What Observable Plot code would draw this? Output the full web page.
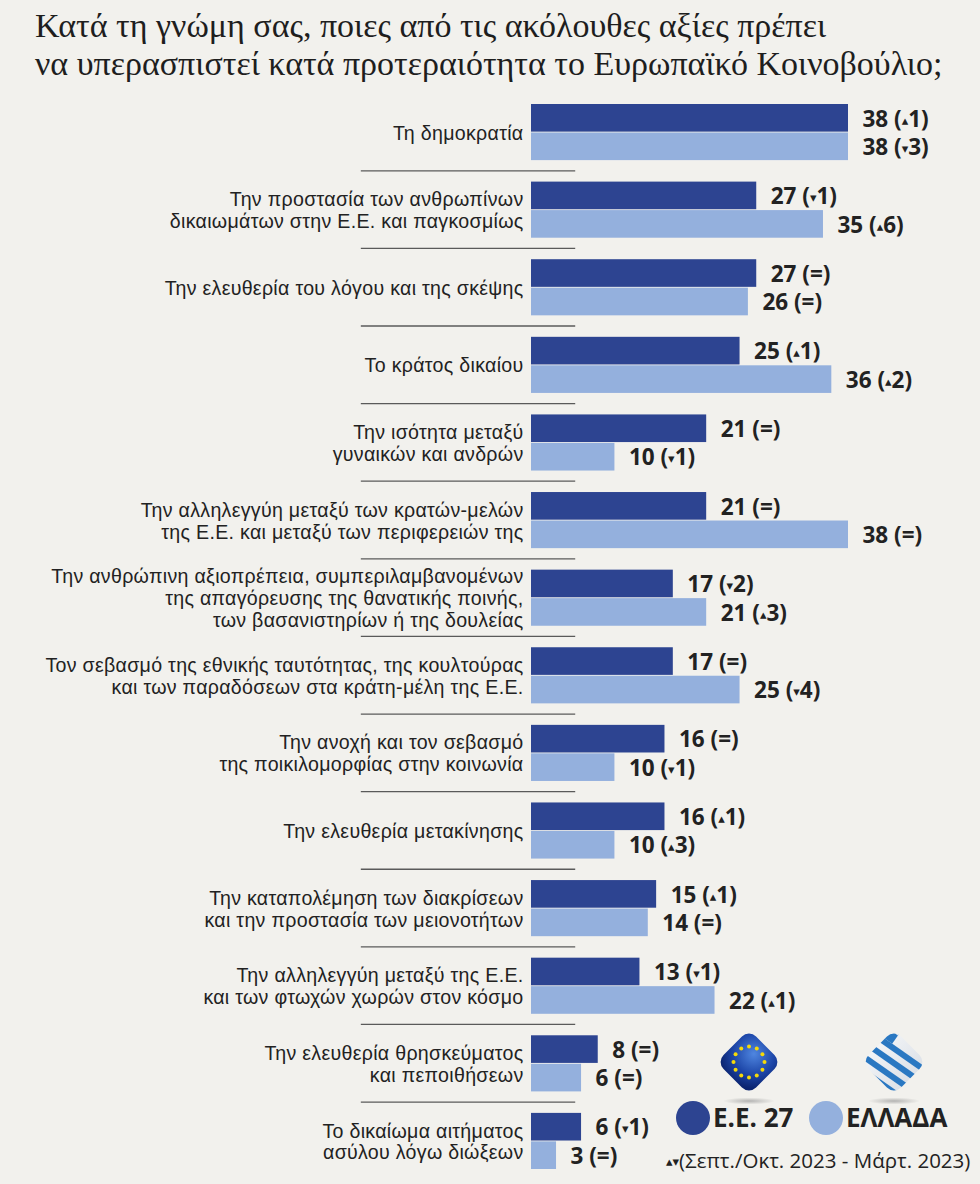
<!DOCTYPE html>
<html>
<head>
<meta charset="utf-8">
<script src="https://cdn.jsdelivr.net/npm/d3@7"></script>
<script src="https://cdn.jsdelivr.net/npm/@observablehq/plot@0.6"></script>
<style>
  html, body { margin: 0; padding: 0; background: #f2f1ed; }
  body { width: 980px; height: 1184px; position: relative; overflow: hidden; }
  #title { position: absolute; left: 35px; top: 7px; font-family: "Liberation Serif", serif; font-size: 34px; line-height: 38px; color: #1e1e1e; white-space: nowrap; }
  #chart { position: absolute; left: 0; top: 95px; }
  .leg { position: absolute; font-family: "Open Sans", sans-serif; font-weight: 700; font-size: 26px; line-height: 34px; color: #222; }
  .dot { position: absolute; width: 34px; height: 34px; border-radius: 50%; }
  #caption { position: absolute; left: 666px; top: 1147px; font-family: "Open Sans", sans-serif; font-size: 20.5px; line-height: 26px; color: #222; white-space: nowrap; }
  #caption span { font-family: "DejaVu Sans", sans-serif; font-size: 13px; vertical-align: 2px; }
  .icon { position: absolute; }
  .glabel text { letter-spacing: 0.3px; }
</style>
</head>
<body>
<div id="title">Κατά τη γνώμη σας, ποιες από τις ακόλουθες αξίες πρέπει<br>να υπερασπιστεί κατά προτεραιότητα το Ευρωπαϊκό Κοινοβούλιο;</div>
<div id="chart"></div>

<svg class="icon" style="left:713px; top:1026px" width="72" height="80" viewBox="-36 -36 72 80">
  <defs>
    <radialGradient id="eug" cx="0.45" cy="0.3" r="0.75">
      <stop offset="0" stop-color="#4f86e0"/>
      <stop offset="0.6" stop-color="#1d46a8"/>
      <stop offset="1" stop-color="#0b2470"/>
    </radialGradient>
    <radialGradient id="shd" cx="0.5" cy="0.5" r="0.5">
      <stop offset="0" stop-color="#999" stop-opacity="0.7"/>
      <stop offset="1" stop-color="#999" stop-opacity="0"/>
    </radialGradient>
  </defs>
  <ellipse cx="0" cy="39" rx="26" ry="3.5" fill="url(#shd)"/>
  <rect x="-23" y="-23" width="46" height="46" rx="10" transform="rotate(45)" fill="url(#eug)"/>
  <g id="stars" fill="#f5d90a"></g>
</svg>

<svg class="icon" style="left:858px; top:1026px" width="72" height="80" viewBox="-36 -36 72 80">
  <defs>
    <clipPath id="grclip"><rect x="-23" y="-23" width="46" height="46" rx="10" transform="rotate(45)"/></clipPath>
    <linearGradient id="grw" x1="0" y1="0" x2="1" y2="1">
      <stop offset="0" stop-color="#ffffff"/>
      <stop offset="1" stop-color="#cfd6df"/>
    </linearGradient>
  </defs>
  <ellipse cx="0" cy="39" rx="26" ry="3.5" fill="url(#shd)"/>
  <g clip-path="url(#grclip)">
    <rect x="-36" y="-36" width="72" height="72" fill="url(#grw)"/>
    <g transform="rotate(35)" fill="#2a78c2">
      <rect x="-40" y="-2" width="80" height="6"/>
      <rect x="-40" y="10" width="80" height="6"/>
      <rect x="-40" y="22" width="80" height="6"/>
      <rect x="-40" y="-14" width="80" height="6"/>
      <rect x="-40" y="-40" width="28" height="26"/>
    </g>
    <g transform="rotate(35)" fill="#fff">
      <rect x="-40" y="-29" width="28" height="5"/>
      <rect x="-28" y="-40" width="5" height="26"/>
    </g>
  </g>
</svg>

<div class="dot" style="left:676px; top:1101px; background:#2d4491"></div>
<div class="leg" style="left:713px; top:1100px">Ε.Ε. 27</div>
<div class="dot" style="left:809px; top:1101px; background:#94b0dd"></div>
<div class="leg" style="left:846px; top:1100px">ΕΛΛΑΔΑ</div>
<div id="caption"><span>▴▾</span>(Σεπτ./Οκτ. 2023 - Μάρτ. 2023)</div>

<script>
// ---- data ----
const groups = [
  "Τη δημοκρατία",
  "Την προστασία των ανθρωπίνων\nδικαιωμάτων στην Ε.Ε. και παγκοσμίως",
  "Την ελευθερία του λόγου και της σκέψης",
  "Το κράτος δικαίου",
  "Την ισότητα μεταξύ\nγυναικών και ανδρών",
  "Την αλληλεγγύη μεταξύ των κρατών-μελών\nτης Ε.Ε. και μεταξύ των περιφερειών της",
  "Την ανθρώπινη αξιοπρέπεια, συμπεριλαμβανομένων\nτης απαγόρευσης της θανατικής ποινής,\nτων βασανιστηρίων ή της δουλείας",
  "Τον σεβασμό της εθνικής ταυτότητας, της κουλτούρας\nκαι των παραδόσεων στα κράτη-μέλη της Ε.Ε.",
  "Την ανοχή και τον σεβασμό\nτης ποικιλομορφίας στην κοινωνία",
  "Την ελευθερία μετακίνησης",
  "Την καταπολέμηση των διακρίσεων\nκαι την προστασία των μειονοτήτων",
  "Την αλληλεγγύη μεταξύ της Ε.Ε.\nκαι των φτωχών χωρών στον κόσμο",
  "Την ελευθερία θρησκεύματος\nκαι πεποιθήσεων",
  "Το δικαίωμα αιτήματος\nασύλου λόγω διώξεων"
];
const series = ["Ε.Ε. 27", "ΕΛΛΑΔΑ"];
const euValues = [38, 27, 27, 25, 21, 21, 17, 17, 16, 16, 15, 13, 8, 6];
const euChange = ["▴1", "▾1", "=", "▴1", "=", "=", "▾2", "=", "=", "▴1", "▴1", "▾1", "=", "▾1"];
const grValues = [38, 35, 26, 36, 10, 38, 21, 25, 10, 10, 14, 22, 6, 3];
const grChange = ["▾3", "▴6", "=", "▴2", "▾1", "=", "▴3", "▾4", "▾1", "▴3", "=", "▴1", "=", "="];
const colors = ["#2d4491", "#94b0dd"];

// star ring on EU icon
const starG = document.getElementById("stars");
for (let i = 0; i < 12; i++) {
  const a = i * Math.PI / 6;
  const c = document.createElementNS("http://www.w3.org/2000/svg", "circle");
  c.setAttribute("cx", (15.5 * Math.cos(a)).toFixed(2));
  c.setAttribute("cy", (15.5 * Math.sin(a)).toFixed(2));
  c.setAttribute("r", "2");
  starG.appendChild(c);
}

const rows = [];
groups.forEach((g, i) => {
  rows.push({group: g, series: series[0], value: euValues[i], label: `${euValues[i]} (${euChange[i]})`});
  rows.push({group: g, series: series[1], value: grValues[i], label: `${grValues[i]} (${grChange[i]})`});
});

const chart = Plot.plot({
  width: 980,
  height: 1089,
  marginLeft: 531,
  marginRight: 132,
  marginTop: 9,
  marginBottom: 15,
  style: {background: "transparent", overflow: "visible"},
  x: {domain: [0, 38], axis: null},
  y: {domain: series, axis: null, paddingInner: 0.03, paddingOuter: 0, round: false},
  fy: {domain: groups, axis: null, paddingInner: 0.277, paddingOuter: 0, round: false},
  color: {domain: series, range: colors},
  marks: [
    Plot.ruleY(groups.slice(0, -1), {
      fy: d => d, y: () => series[1],
      x1: () => -20.4, x2: () => 5.3,
      stroke: "#5a5a5a", strokeWidth: 1.3, dy: 24
    }),
    Plot.barX(rows, {x: "value", y: "series", fy: "group", fill: "series"}),
    Plot.text(rows, {
      x: "value", y: "series", fy: "group", text: "label",
      textAnchor: "start", dx: 14, dy: 1, className: "vlabel",
      fontFamily: "Open Sans, sans-serif", fontWeight: 700, fontSize: 22.5, fill: "#222"
    }),
    Plot.text(groups, {
      fy: d => d, text: d => d, frameAnchor: "left", className: "glabel",
      textAnchor: "end", dx: -8, lineHeight: 1.12,
      fontFamily: "Liberation Sans, sans-serif", fontSize: 19.6, fill: "#222"
    })
  ]
});

// shrink the change triangles inside the value labels
chart.querySelectorAll(".vlabel text").forEach(t => {
  const s = t.textContent;
  if (!/[▴▾]/.test(s)) return;
  t.textContent = "";
  s.split(/([▴▾])/).forEach(part => {
    if (!part) return;
    const ts = document.createElementNS("http://www.w3.org/2000/svg", "tspan");
    ts.textContent = part;
    if (part === "▴" || part === "▾") {
      ts.setAttribute("font-size", "13");
      ts.setAttribute("font-family", "DejaVu Sans, sans-serif");
      ts.setAttribute("baseline-shift", "2");
    }
    t.appendChild(ts);
  });
});

document.getElementById("chart").appendChild(chart);
</script>
</body>
</html>
